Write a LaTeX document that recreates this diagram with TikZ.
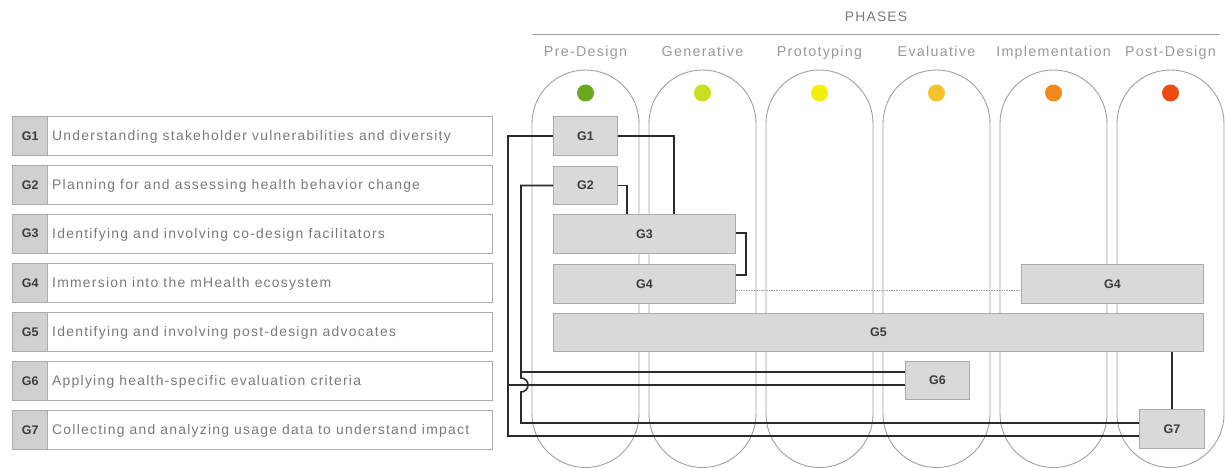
\documentclass[tikz,border=0pt]{standalone}
\usepackage{fontspec}
\setmainfont{Liberation Sans}
\usetikzlibrary{calc}
\definecolor{pillline}{HTML}{A0A0A0}
\definecolor{boxfill}{HTML}{D9D9D9}
\definecolor{tagfill}{HTML}{D0D0D0}
\definecolor{boxline}{HTML}{ABABAB}
\definecolor{conn}{HTML}{2B2B2B}
\definecolor{txtgray}{HTML}{7A7A7A}
\definecolor{phgray}{HTML}{999999}
\definecolor{lblgray}{HTML}{3C3C3C}
\definecolor{cA}{HTML}{6AA81E}
\definecolor{cB}{HTML}{C9DF22}
\definecolor{cC}{HTML}{F3EE0C}
\definecolor{cD}{HTML}{F4C22A}
\definecolor{cE}{HTML}{F08A1C}
\definecolor{cF}{HTML}{EE4A12}
\newfontfamily\spaced[LetterSpace=9]{Liberation Sans}
\tikzset{
  pill/.style={draw=pillline, line width=0.9pt, rounded corners=53.5pt},
  gbox/.style={draw=boxline, fill=boxfill, line width=1pt, inner sep=0pt, anchor=north west,
    font=\fontsize{12.5}{14}\selectfont\bfseries, text=lblgray},
  listbox/.style={draw=boxline, line width=1pt, fill=white, inner sep=0pt, anchor=north west,
    minimum width=480pt, minimum height=39pt},
  listtag/.style={fill=tagfill, inner sep=0pt, anchor=north west,
    minimum width=35pt, minimum height=38pt, font=\fontsize{12.5}{14}\selectfont\bfseries, text=lblgray},
  listtext/.style={anchor=base west, inner sep=0pt, font=\spaced\fontsize{13.9}{15}\selectfont, text=txtgray},
  phase/.style={anchor=base, font=\spaced\fontsize{14.3}{16}\selectfont, text=phgray},
  dot/.style={circle, inner sep=0pt, minimum size=17pt},
  link/.style={draw=conn, line width=1.6pt},
  faint/.style={draw=pillline, line width=0.8pt, dash pattern=on 1.5pt off 1pt},
}
\begin{document}
\begin{tikzpicture}[x=1pt, y=-1pt]
\useasboundingbox (0,0) rectangle (1225,468);

% heading
\node[anchor=base, font=\spaced\fontsize{13.8}{15}\selectfont, text=txtgray] (phases) at (876,22) {PHASES};
\draw[draw=pillline, line width=1pt] (532,35) -- (1220,35);

% phase columns
\foreach \i/\name/\col in {0/Pre-Design/cA, 1/Generative/cB, 2/Prototyping/cC,
                           3/Evaluative/cD, 4/Implementation/cE, 5/Post-Design/cF}{
  \pgfmathsetmacro{\xl}{532+117*\i}
  \pgfmathsetmacro{\xc}{\xl+53.5}
  \draw[pill] (\xl,70) rectangle (\xl+107,467.5);
  \node[dot, fill=\col] (dot\i) at (\xc,93) {};
  \node[phase] (ph\i) at (\xc,57) {\name};
}

% goal list
\foreach \n/\t [count=\k from 0] in {
  1/Understanding stakeholder vulnerabilities and diversity,
  2/Planning for and assessing health behavior change,
  3/Identifying and involving co-design facilitators,
  4/Immersion into the mHealth ecosystem,
  5/Identifying and involving post-design advocates,
  6/Applying health-specific evaluation criteria,
  7/Collecting and analyzing usage data to understand impact}{
  \pgfmathsetmacro{\yt}{116+49*\k}
  \node[listbox] (L\n) at (12,\yt) {};
  \node[listtag] (T\n) at (12.5,\yt+0.5) {G\n};
  \draw[draw=boxline, line width=1pt] (T\n.north east) -- (T\n.south east);
  \node[listtext] (X\n) at (52,\yt+24) {\t};
}

% goal boxes in the phase grid
\node[gbox, minimum width=64pt,  minimum height=39pt] (g1)  at (553,116) {G1};
\node[gbox, minimum width=64pt,  minimum height=38pt] (g2)  at (553,166) {G2};
\node[gbox, minimum width=182pt, minimum height=39pt] (g3)  at (553,214) {G3};
\node[gbox, minimum width=182pt, minimum height=39pt] (g4)  at (553,264) {G4};
\node[gbox, minimum width=182pt, minimum height=39pt] (g4b) at (1021,264) {G4};
\node[gbox, minimum width=650pt, minimum height=38pt] (g5)  at (553,313) {G5};
\node[gbox, minimum width=64pt,  minimum height=38pt] (g6)  at (905,361) {G6};
\node[gbox, minimum width=65pt,  minimum height=39pt] (g7)  at (1139,409) {G7};

% routing columns and rows
\coordinate (xo) at (508,0);
\coordinate (xi) at (521,0);
\coordinate (yo) at (0,436);
\coordinate (yi) at (0,423);
\coordinate (y6a) at (0,372);
\coordinate (y6b) at (0,385);

% G1 feeds G3 and, along the outer rail, G6 and G7
\draw[link] (g1.east) -- (g1.east -| 674,0) -- (g3.north -| 674,0);
\draw[link] (g1.west) -- (g1.west -| xo) -- (xo |- yo) -- (g7.west |- yo);
% G2 feeds G3 and, along the inner rail (hopping the outer link), G6 and G7
\draw[link] (g2.east) -- (g2.east -| 627,0) -- (g3.north -| 627,0);
\draw[link] (g2.west) -- (g2.west -| xi) -- ($(xi |- y6b)+(0,-7)$)
  arc[start angle=90, end angle=-90, radius=7pt]
  -- (xi |- yi) -- (g7.west |- yi);
% links into G6
\draw[link] (g6.west |- y6a) -- (xi |- y6a);
\draw[link] (g6.west |- y6b) -- (xo |- y6b);
% G3 and G4 bracket
\draw[link] (g3.east |- 0,233) -- (746,233) -- (746,275) -- (g4.east |- 0,275);
% G4 continues into implementation
\draw[faint] (g4.east |- 0,290) -- (g4b.west |- 0,290);
% G5 to G7
\draw[link, line width=1.2pt] (g5.south -| 1172,0) -- (g7.north -| 1172,0);
\end{tikzpicture}
\end{document}
